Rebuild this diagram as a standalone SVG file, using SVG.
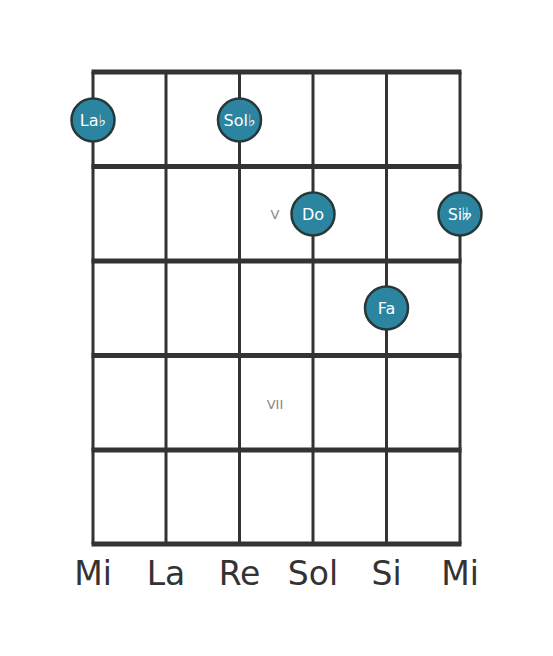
<svg xmlns="http://www.w3.org/2000/svg" width="553" height="656" viewBox="0 0 553 656">
<style>
.fret{stroke:#333;stroke-width:5}
.str{stroke:#333;stroke-width:3}
.dot{fill:#2b84a0;stroke:#263838;stroke-width:2.5}
.nl{fill:#fff;font-family:"DejaVu Sans",sans-serif;font-size:16px;text-anchor:middle;dominant-baseline:central}
.fl{fill:#888;font-family:"DejaVu Sans",sans-serif;font-size:13px;text-anchor:middle;dominant-baseline:central}
.sl{fill:#333;font-family:"DejaVu Sans",sans-serif;font-size:33px;text-anchor:middle}
</style>
<rect width="553" height="656" fill="#fff"/>
<g id="connectors">
<line class="str" x1="93" y1="72" x2="93" y2="544"/>
<line class="str" x1="166" y1="72" x2="166" y2="544"/>
<line class="str" x1="239.5" y1="72" x2="239.5" y2="544"/>
<line class="str" x1="313" y1="72" x2="313" y2="544"/>
<line class="str" x1="386.5" y1="72" x2="386.5" y2="544"/>
<line class="str" x1="460" y1="72" x2="460" y2="544"/>
<line class="fret" x1="91.5" y1="72" x2="461.5" y2="72"/>
<line class="fret" x1="91.5" y1="166.5" x2="461.5" y2="166.5"/>
<line class="fret" x1="91.5" y1="261" x2="461.5" y2="261"/>
<line class="fret" x1="91.5" y1="355.5" x2="461.5" y2="355.5"/>
<line class="fret" x1="91.5" y1="450" x2="461.5" y2="450"/>
<line class="fret" x1="91.5" y1="544" x2="461.5" y2="544"/>
</g>
<text class="fl" x="275" y="214">V</text>
<text class="fl" x="275" y="404">VII</text>
<g id="n-lab"><circle class="dot" cx="93" cy="120" r="21.5"/><text class="nl" x="93" y="120">La♭</text></g>
<g id="n-solb"><circle class="dot" cx="239.5" cy="120" r="21.5"/><text class="nl" x="239.5" y="120">Sol♭</text></g>
<g id="n-do"><circle class="dot" cx="313" cy="214" r="21.5"/><text class="nl" x="313" y="214">Do</text></g>
<g id="n-sibb"><circle class="dot" cx="460" cy="214" r="21.5"/><text class="nl" x="460" y="214">Si𝄫</text></g>
<g id="n-fa"><circle class="dot" cx="386.5" cy="308" r="21.5"/><text class="nl" x="386.5" y="308">Fa</text></g>
<text class="sl" x="93" y="585">Mi</text>
<text class="sl" x="166" y="585">La</text>
<text class="sl" x="239.5" y="585">Re</text>
<text class="sl" x="313" y="585">Sol</text>
<text class="sl" x="386.5" y="585">Si</text>
<text class="sl" x="460" y="585">Mi</text>
</svg>
